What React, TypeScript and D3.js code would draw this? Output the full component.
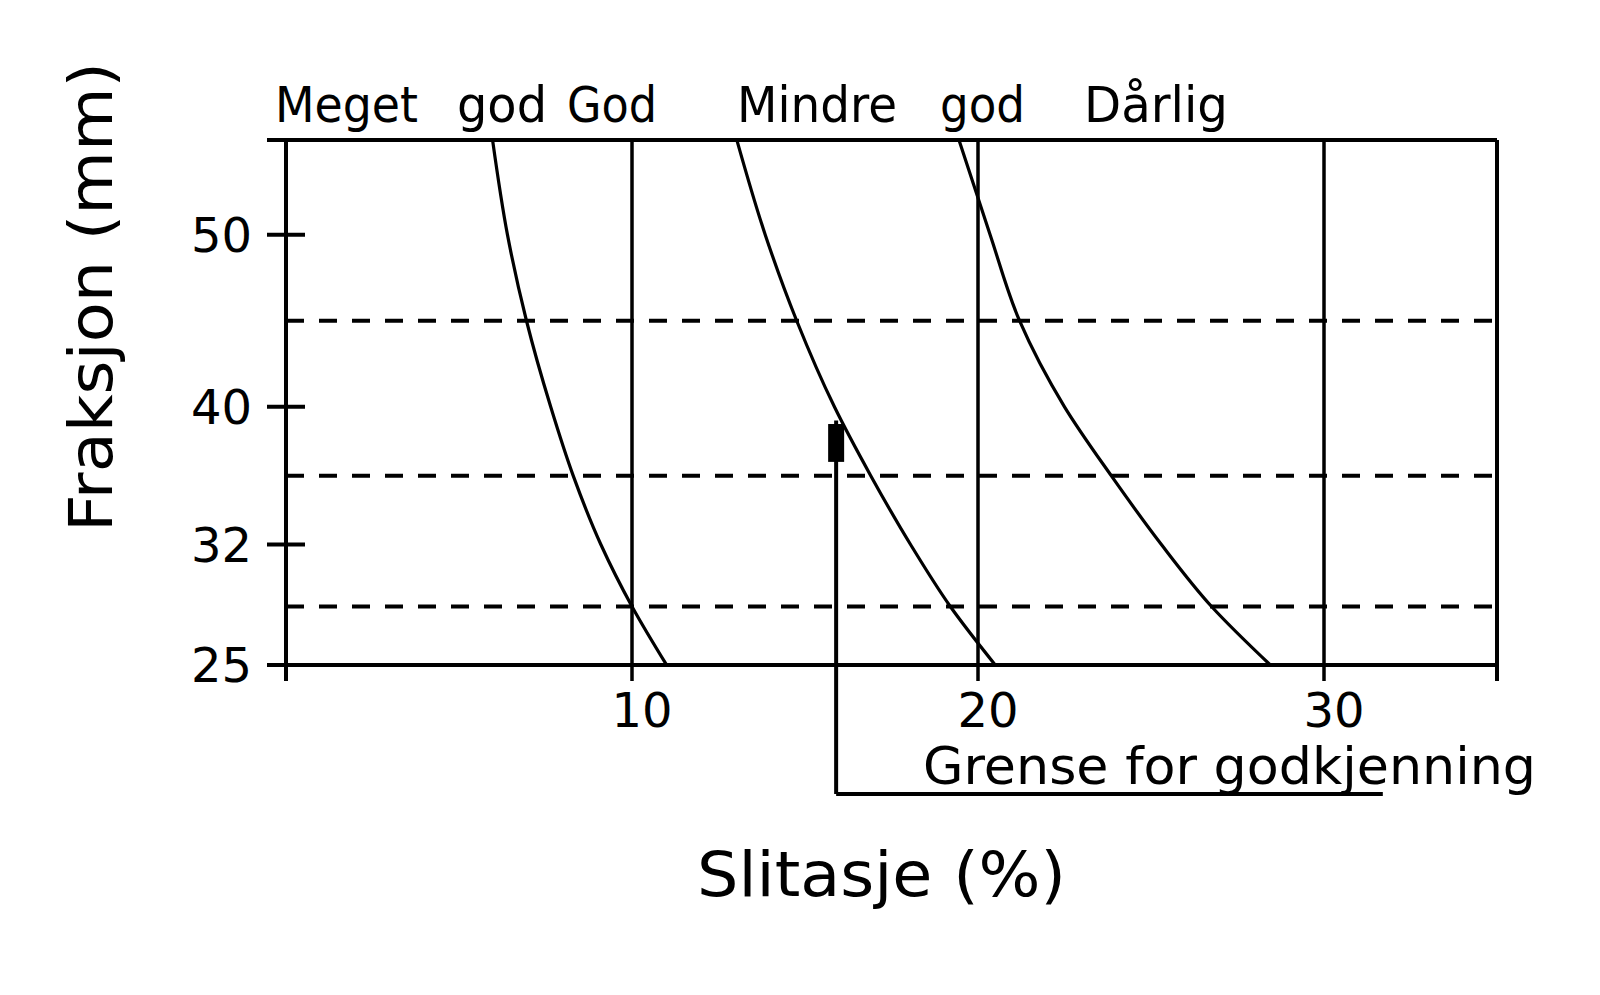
import React, { useEffect, useRef } from "react";
import * as d3 from "d3";

// Fraksjon (mm) levels where the class boundaries were read
const fractionLevels = [55.5, 50, 45, 40, 36, 32, 28.4, 25];
// Slitasje (%) boundary curves
const megetGodGod = [5.97, 6.4, 6.95, 7.65, 8.3, 9.1, 10.0, 11.0];
const godMindreGod = [13.03, 13.85, 14.76, 15.85, 16.9, 18.05, 19.2, 20.5];
const mindreGodDarlig = [19.45, 20.35, 21.2, 22.5, 23.85, 25.3, 26.75, 28.45];

const fractionTicks = [25, 32, 40, 50];
const wearTicks = [10, 20, 30];
const fractionBounds = [45, 36, 28.4];

const classLabels = ["Meget", "god", "God", "Mindre", "god", "Dårlig"];
const classLabelStart = [275, 457, 567, 737, 940, 1084];
const classLabelWidth = [143, 90, 90, 160, 85, 144];

// acceptance limit marker
const limitWear = 15.9;
const limitTop = 39.2;
const limitBlock = [36.8, 39.0];
const limitEnd = 31.7;

const App: React.FC = () => {
  const svgRef = useRef<SVGSVGElement | null>(null);

  useEffect(() => {
    if (!svgRef.current) return;
    const width = 1600;
    const height = 995;
    const left = 286;
    const right = 1497;
    const top = 140;
    const bottom = 665;
    const font = "'DejaVu Sans', sans-serif";

    const svg = d3.select(svgRef.current);
    svg.selectAll("*").remove();
    svg.attr("width", width).attr("height", height);

    const x = d3.scaleLinear().domain([0, 35]).range([left, right]);
    const y = d3.scaleLinear().domain([25, 55.5]).range([bottom, top]);

    const g = svg.append("g").attr("stroke", "#000").attr("fill", "none");

    // dashed fraction boundaries
    g.selectAll(".dash")
      .data(fractionBounds)
      .enter()
      .append("line")
      .attr("x1", left)
      .attr("x2", right)
      .attr("y1", (d) => y(d))
      .attr("y2", (d) => y(d))
      .attr("stroke-width", 4)
      .attr("stroke-dasharray", "18 15");

    // vertical grid lines
    g.selectAll(".grid")
      .data(wearTicks)
      .enter()
      .append("line")
      .attr("x1", (d) => x(d))
      .attr("x2", (d) => x(d))
      .attr("y1", top)
      .attr("y2", bottom + 16)
      .attr("stroke-width", 3.5);

    // frame
    g.append("line").attr("x1", left - 19).attr("x2", right).attr("y1", top).attr("y2", top).attr("stroke-width", 4);
    g.append("line").attr("x1", left - 19).attr("x2", right).attr("y1", bottom).attr("y2", bottom).attr("stroke-width", 4);
    g.append("line").attr("x1", left).attr("x2", left).attr("y1", top).attr("y2", bottom + 16).attr("stroke-width", 4);
    g.append("line").attr("x1", right).attr("x2", right).attr("y1", top).attr("y2", bottom + 16).attr("stroke-width", 4);

    // y ticks
    g.selectAll(".yt")
      .data(fractionTicks)
      .enter()
      .append("line")
      .attr("x1", left - 19)
      .attr("x2", (d) => (d === 25 ? left : left + 19))
      .attr("y1", (d) => y(d))
      .attr("y2", (d) => y(d))
      .attr("stroke-width", 4);

    // boundary curves
    const line = d3
      .line<number>()
      .x((d) => x(d))
      .y((_, i) => y(fractionLevels[i]))
      .curve(d3.curveMonotoneY);
    [megetGodGod, godMindreGod, mindreGodDarlig].forEach((c) => {
      g.append("path").attr("d", line(c)).attr("stroke-width", 3.2);
    });

    // limit marker
    const limitBottom = bottom + 129;
    g.append("line")
      .attr("x1", x(limitWear))
      .attr("x2", x(limitWear))
      .attr("y1", y(limitTop))
      .attr("y2", limitBottom)
      .attr("stroke-width", 4);
    g.append("line")
      .attr("x1", x(limitWear))
      .attr("x2", x(limitEnd))
      .attr("y1", limitBottom)
      .attr("y2", limitBottom)
      .attr("stroke-width", 4);
    svg
      .append("rect")
      .attr("x", x(limitWear) - 8)
      .attr("y", y(limitBlock[1]))
      .attr("width", 16)
      .attr("height", y(limitBlock[0]) - y(limitBlock[1]))
      .attr("fill", "#000");

    const text = svg.append("g").attr("font-family", font).attr("fill", "#000");

    // class labels above the frame
    classLabels.forEach((t, i) => {
      text
        .append("text")
        .attr("x", classLabelStart[i])
        .attr("y", 122)
        .attr("font-size", 50)
        .attr("textLength", classLabelWidth[i])
        .attr("lengthAdjust", "spacingAndGlyphs")
        .text(t);
    });

    // tick labels
    text
      .selectAll(".yl")
      .data(fractionTicks)
      .enter()
      .append("text")
      .attr("x", 252)
      .attr("y", (d) => y(d))
      .attr("dy", "0.36em")
      .attr("text-anchor", "end")
      .attr("font-size", 48)
      .text((d) => d);
    text
      .selectAll(".xl")
      .data(wearTicks)
      .enter()
      .append("text")
      .attr("x", (d) => x(d) + 10)
      .attr("y", 727)
      .attr("text-anchor", "middle")
      .attr("font-size", 48)
      .text((d) => d);

    text
      .append("text")
      .attr("x", 923)
      .attr("y", 784)
      .attr("font-size", 52)
      .attr("textLength", 613)
      .attr("lengthAdjust", "spacingAndGlyphs")
      .text("Grense for godkjenning");

    text
      .append("text")
      .attr("x", 697)
      .attr("y", 896)
      .attr("font-size", 62)
      .attr("textLength", 369)
      .attr("lengthAdjust", "spacingAndGlyphs")
      .text("Slitasje (%)");

    text
      .append("text")
      .attr("transform", "translate(112,532) rotate(-90)")
      .attr("font-size", 60)
      .attr("textLength", 470)
      .attr("lengthAdjust", "spacingAndGlyphs")
      .text("Fraksjon (mm)");
  }, []);

  return (
    <div style={{ position: "absolute", left: 0, top: 0, background: "#fff" }}>
      <svg ref={svgRef}></svg>
    </div>
  );
};

export default App;
